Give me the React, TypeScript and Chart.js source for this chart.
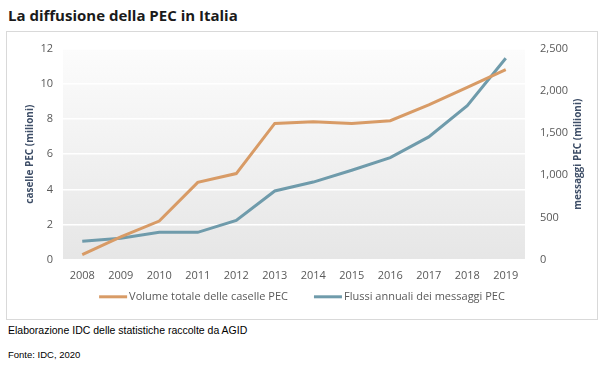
import React, { useEffect, useRef } from "react";
import { Chart, registerables } from "chart.js";

Chart.register(...registerables);

const years = ["2008", "2009", "2010", "2011", "2012", "2013", "2014", "2015", "2016", "2017", "2018", "2019"];
const caselle = [0.3, 1.3, 2.2, 4.4, 4.9, 7.75, 7.85, 7.75, 7.9, 8.8, 9.8, 10.8];
const messaggi = [220, 255, 325, 325, 465, 815, 920, 1060, 1210, 1455, 1825, 2385];
const seriesNames = ["Volume totale delle caselle PEC", "Flussi annuali dei messaggi PEC"];
const axisTitles = ["caselle PEC (milioni)", "messaggi PEC (milioni)"];
const title = "La diffusione della PEC in Italia";
const note = "Elaborazione IDC delle statistiche raccolte da AGID";
const source = "Fonte: IDC, 2020";

const ORANGE = "#d89b66";
const BLUE = "#6f9bab";
const FONT = "'Open Sans', sans-serif";

const bgPlugin = {
  id: "bgPlugin",
  beforeDraw(chart: any) {
    const { ctx, chartArea } = chart;
    if (!chartArea) return;
    const g = ctx.createLinearGradient(chartArea.left, chartArea.top, chartArea.left, chartArea.bottom);
    g.addColorStop(0, "#fcfcfc");
    g.addColorStop(1, "#e6e6e6");
    ctx.save();
    ctx.fillStyle = g;
    ctx.fillRect(chartArea.left, chartArea.top, chartArea.right - chartArea.left, chartArea.bottom - chartArea.top);
    ctx.restore();
  },
  afterDraw(chart: any) {
    const { ctx, chartArea, width } = chart;
    const cy = (chartArea.top + chartArea.bottom) / 2;
    ctx.save();
    ctx.fillStyle = "#3f4f68";
    ctx.font = "bold 10px " + FONT;
    ctx.textAlign = "center";
    ctx.textBaseline = "middle";
    const xs = [23, 571];
    for (let i = 0; i < 2; i++) {
      ctx.save();
      ctx.translate(xs[i], cy);
      ctx.rotate(-Math.PI / 2);
      ctx.fillText(axisTitles[i], 0, 0);
      ctx.restore();
    }
    ctx.restore();

    // legend
    ctx.save();
    ctx.font = "11px " + FONT;
    ctx.textBaseline = "middle";
    ctx.textAlign = "left";
    const lineW = 28;
    const gapText = 2;
    const gapItems = 26;
    const ly = chartArea.bottom + 37;
    const ds = chart.data.datasets;
    const tw = ds.map((d: any) => ctx.measureText(d.label).width);
    const total = tw.reduce((a: number, w: number) => a + lineW + gapText + w, 0) + gapItems * (ds.length - 1);
    let x = (width - total) / 2;
    ds.forEach((d: any, i: number) => {
      ctx.strokeStyle = d.borderColor;
      ctx.lineWidth = 3;
      ctx.beginPath();
      ctx.moveTo(x, ly);
      ctx.lineTo(x + lineW, ly);
      ctx.stroke();
      ctx.fillStyle = "#595959";
      ctx.fillText(d.label, x + lineW + gapText, ly);
      x += lineW + gapText + tw[i] + gapItems;
    });
    ctx.restore();
  },
};

export default function App() {
  const ref = useRef<HTMLCanvasElement>(null);
  useEffect(() => {
    if (!ref.current) return;
    const chart = new Chart(ref.current, {
      type: "line",
      data: {
        labels: years,
        datasets: [
          {
            label: seriesNames[0],
            data: caselle,
            borderColor: ORANGE,
            backgroundColor: ORANGE,
            borderWidth: 3,
            pointRadius: 0,
            tension: 0,
            yAxisID: "y",
          },
          {
            label: seriesNames[1],
            data: messaggi,
            borderColor: BLUE,
            backgroundColor: BLUE,
            borderWidth: 3,
            pointRadius: 0,
            tension: 0,
            yAxisID: "y1",
          },
        ],
      },
      options: {
        animation: false,
        responsive: false,
        layout: { padding: { top: 3, left: 0, right: 0, bottom: 36 } },
        plugins: {
          legend: { display: false },
          tooltip: { enabled: false },
        },
        scales: {
          x: {
            offset: true,
            grid: { display: false },
            border: { display: false },
            ticks: { color: "#595959", font: { family: FONT, size: 11 }, padding: 1 },
          },
          y: {
            position: "left",
            min: 0,
            max: 12,
            ticks: { stepSize: 2, color: "#595959", font: { family: FONT, size: 11 }, padding: 10 },
            grid: { color: "#ffffff", lineWidth: 1.5, drawTicks: false },
            border: { display: false },
            afterFit(s: any) { s.width = 56; },
          },
          y1: {
            position: "right",
            min: 0,
            max: 2500,
            ticks: {
              stepSize: 500,
              color: "#595959",
              font: { family: FONT, size: 11 },
              padding: 7,
              callback: (v: any) => Number(v).toLocaleString("en-US"),
            },
            grid: { display: false },
            border: { display: false },
            afterFit(s: any) { s.width = 72; },
          },
        },
      },
      plugins: [bgPlugin],
    });
    return () => chart.destroy();
  }, []);

  return (
    <div style={{ position: "absolute", left: 0, top: 0, width: 609, height: 366, background: "#fff", fontFamily: "'Liberation Sans', Arial, sans-serif" }}>
      <div style={{ position: "absolute", left: 8, top: 5, fontFamily: FONT, fontWeight: "bold", fontSize: 15, color: "#1a1a1a" }}>{title}</div>
      <div style={{ position: "absolute", left: 6, top: 31, width: 590, height: 287, border: "1px solid #d9d9d9" }}>
        <canvas ref={ref} width={590} height={287} style={{ display: "block" }} />
      </div>
      <div style={{ position: "absolute", left: 8, top: 324, fontSize: 10.5, color: "#000" }}>{note}</div>
      <div style={{ position: "absolute", left: 8, top: 349, fontSize: 9.5, color: "#000" }}>{source}</div>
    </div>
  );
}
